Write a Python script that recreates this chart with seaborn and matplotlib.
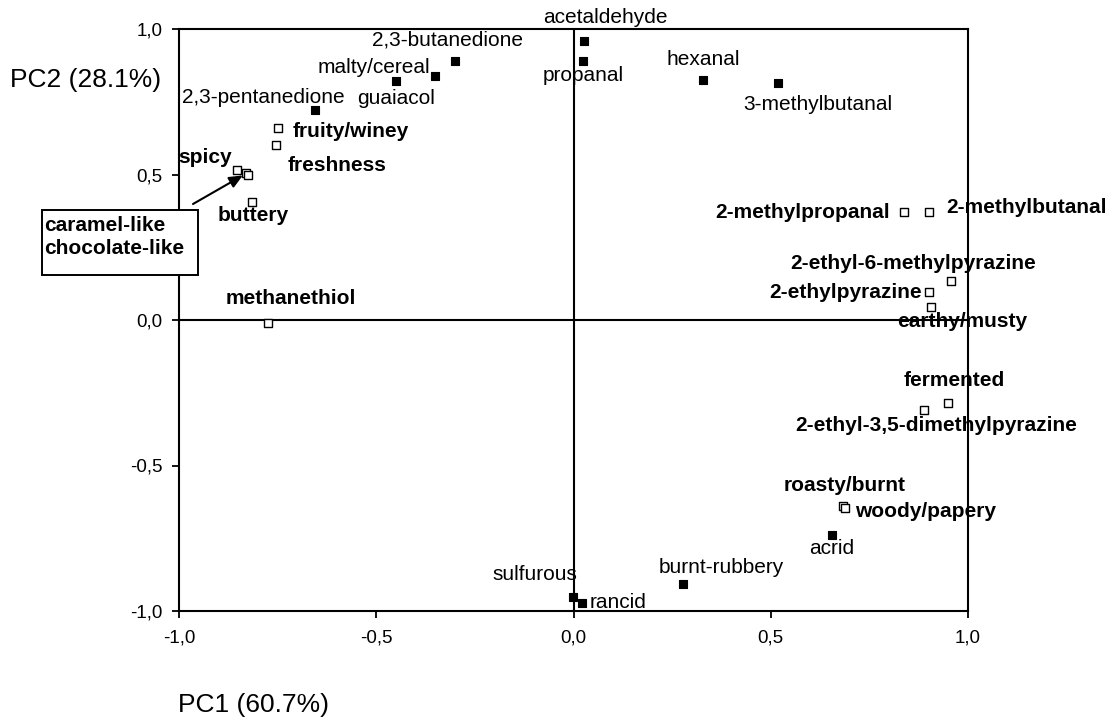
import matplotlib
matplotlib.use("Agg")
import matplotlib.pyplot as plt
from matplotlib.patches import Rectangle
import seaborn as sns
import pandas as pd

# Sensory attributes (open squares, bold labels)
attr_names = ["fruity/winey", "freshness", "spicy", "caramel-like", "chocolate-like",
              "buttery", "methanethiol", "2-methylpropanal", "2-methylbutanal",
              "2-ethyl-6-methylpyrazine", "2-ethylpyrazine", "earthy/musty",
              "fermented", "2-ethyl-3,5-dimethylpyrazine", "roasty/burnt", "woody/papery"]
attr_pc1 = [-0.750, -0.755, -0.852, -0.829, -0.826, -0.816, -0.775, 0.839, 0.900,
            0.958, 0.900, 0.907, 0.950, 0.889, 0.684, 0.689]
attr_pc2 = [0.659, 0.601, 0.515, 0.504, 0.500, 0.404, -0.009, 0.370, 0.370,
            0.133, 0.095, 0.043, -0.284, -0.308, -0.639, -0.645]

# Odour-active compounds / descriptors (filled squares, regular labels)
comp_names = ["acetaldehyde", "propanal", "hexanal", "3-methylbutanal", "2,3-butanedione",
              "malty/cereal", "guaiacol", "2,3-pentanedione", "sulfurous", "rancid",
              "burnt-rubbery", "acrid"]
comp_pc1 = [0.027, 0.024, 0.329, 0.519, -0.301, -0.352, -0.450, -0.656, -0.001, 0.022,
            0.278, 0.654]
comp_pc2 = [0.959, 0.890, 0.824, 0.814, 0.890, 0.838, 0.821, 0.721, -0.952, -0.972,
            -0.907, -0.738]

tick_values = [-1.0, -0.5, 0.0, 0.5, 1.0]
tick_labels = ["-1,0", "-0,5", "0,0", "0,5", "1,0"]

attrs = pd.DataFrame({"name": attr_names, "PC1": attr_pc1, "PC2": attr_pc2})
comps = pd.DataFrame({"name": comp_names, "PC1": comp_pc1, "PC2": comp_pc2})

# label placement: offset in pixels from the marker, horizontal alignment
attr_label_pos = {
    "fruity/winey": (15, -3, "left"),
    "freshness": (12, -20, "left"),
    "spicy": (-32, 13, "center"),
    "buttery": (-34, -13, "left"),
    "methanethiol": (-42, 24, "left"),
    "2-methylpropanal": (-15, 0, "right"),
    "2-methylbutanal": (18, 5, "left"),
    "2-ethyl-6-methylpyrazine": (-161, 18, "left"),
    "2-ethylpyrazine": (-7, 0, "right"),
    "earthy/musty": (-34, -14, "left"),
    "fermented": (-45, 22, "left"),
    "2-ethyl-3,5-dimethylpyrazine": (-129, -16, "left"),
    "roasty/burnt": (-60, 20, "left"),
    "woody/papery": (10, -4, "left"),
}
comp_label_pos = {
    "acetaldehyde": (21, 23, "center"),
    "propanal": (0, -14, "center"),
    "hexanal": (0, 21, "center"),
    "3-methylbutanal": (40, -21, "center"),
    "2,3-butanedione": (-7, 21, "center"),
    "malty/cereal": (-4, 9, "right"),
    "guaiacol": (0, -17, "center"),
    "2,3-pentanedione": (-51, 13, "center"),
    "sulfurous": (-38, 23, "center"),
    "rancid": (7, 0, "left"),
    "burnt-rubbery": (38, 16, "center"),
    "acrid": (0, -14, "center"),
}

sns.set_style("white")
plt.rcParams["font.family"] = ["Liberation Sans", "DejaVu Sans"]
plt.rcParams["text.color"] = "black"
plt.rcParams["xtick.color"] = "black"
plt.rcParams["ytick.color"] = "black"

W, H = 1110, 721
LABEL_SIZE = 15
fig = plt.figure(figsize=(W / 100, H / 100), dpi=100)
ax = fig.add_axes([179 / W, 1 - 611 / H, (968 - 179) / W, (611 - 29) / H])

ax.axhline(0, color="black", lw=1.5, zorder=1)
ax.axvline(0, color="black", lw=1.5, zorder=1)

sns.scatterplot(data=comps, x="PC1", y="PC2", ax=ax, marker="s", s=38,
                color="black", edgecolor="black", linewidth=0.8, zorder=3, legend=False)
sns.scatterplot(data=attrs, x="PC1", y="PC2", ax=ax, marker="s", s=38,
                color="white", edgecolor="black", linewidth=1.0, zorder=3, legend=False)

for _, r in comps.iterrows():
    dx, dy, ha = comp_label_pos[r["name"]]
    ax.annotate(r["name"], (r["PC1"], r["PC2"]), xytext=(dx, dy),
                textcoords="offset pixels", ha=ha, va="center",
                fontsize=LABEL_SIZE, annotation_clip=False, zorder=4)

for _, r in attrs.iterrows():
    if r["name"] in attr_label_pos:
        dx, dy, ha = attr_label_pos[r["name"]]
        ax.annotate(r["name"], (r["PC1"], r["PC2"]), xytext=(dx, dy),
                    textcoords="offset pixels", ha=ha, va="center",
                    fontsize=LABEL_SIZE, fontweight="bold", annotation_clip=False, zorder=4)

# boxed label for the two overlapping points, with arrow
box_lines = [n for n in attr_names if n not in attr_label_pos]
fig.patches.append(Rectangle((42 / W, 1 - 275 / H), 156 / W, 65 / H,
                             transform=fig.transFigure, facecolor="white",
                             edgecolor="black", lw=1.4, zorder=5))
fig.text(44 / W, 1 - 237 / H, "\n".join(box_lines), ha="left", va="center",
         fontsize=LABEL_SIZE, fontweight="bold", linespacing=1.25, zorder=6)
target = attrs.loc[attrs["name"] == box_lines[0]].iloc[0]
ax.annotate("", xy=(target["PC1"], target["PC2"]), xytext=(193, H - 204),
            textcoords="figure pixels", annotation_clip=False,
            arrowprops=dict(arrowstyle="-|>,head_length=0.8,head_width=0.35",
                            color="black", lw=1.5, shrinkA=0, shrinkB=3))

ax.set_xlim(-1, 1)
ax.set_ylim(-1, 1)
ax.set_xticks(tick_values)
ax.set_xticklabels(tick_labels)
ax.set_yticks(tick_values)
ax.set_yticklabels(tick_labels)
ax.tick_params(axis="both", direction="out", length=5, width=1.3, labelsize=13.5,
               colors="black", left=True, bottom=True)
ax.tick_params(axis="x", pad=8)
ax.tick_params(axis="y", pad=7)
ax.set_xlabel("")
ax.set_ylabel("")
for sp in ax.spines.values():
    sp.set_visible(True)
    sp.set_color("black")
    sp.set_linewidth(1.5)

fig.text(178 / W, 1 - 705 / H, "PC1 (60.7%)", ha="left", va="center", fontsize=19)
fig.text(10 / W, 1 - 80 / H, "PC2 (28.1%)", ha="left", va="center", fontsize=19)

fig.savefig("out.png", dpi=100, facecolor="white")
